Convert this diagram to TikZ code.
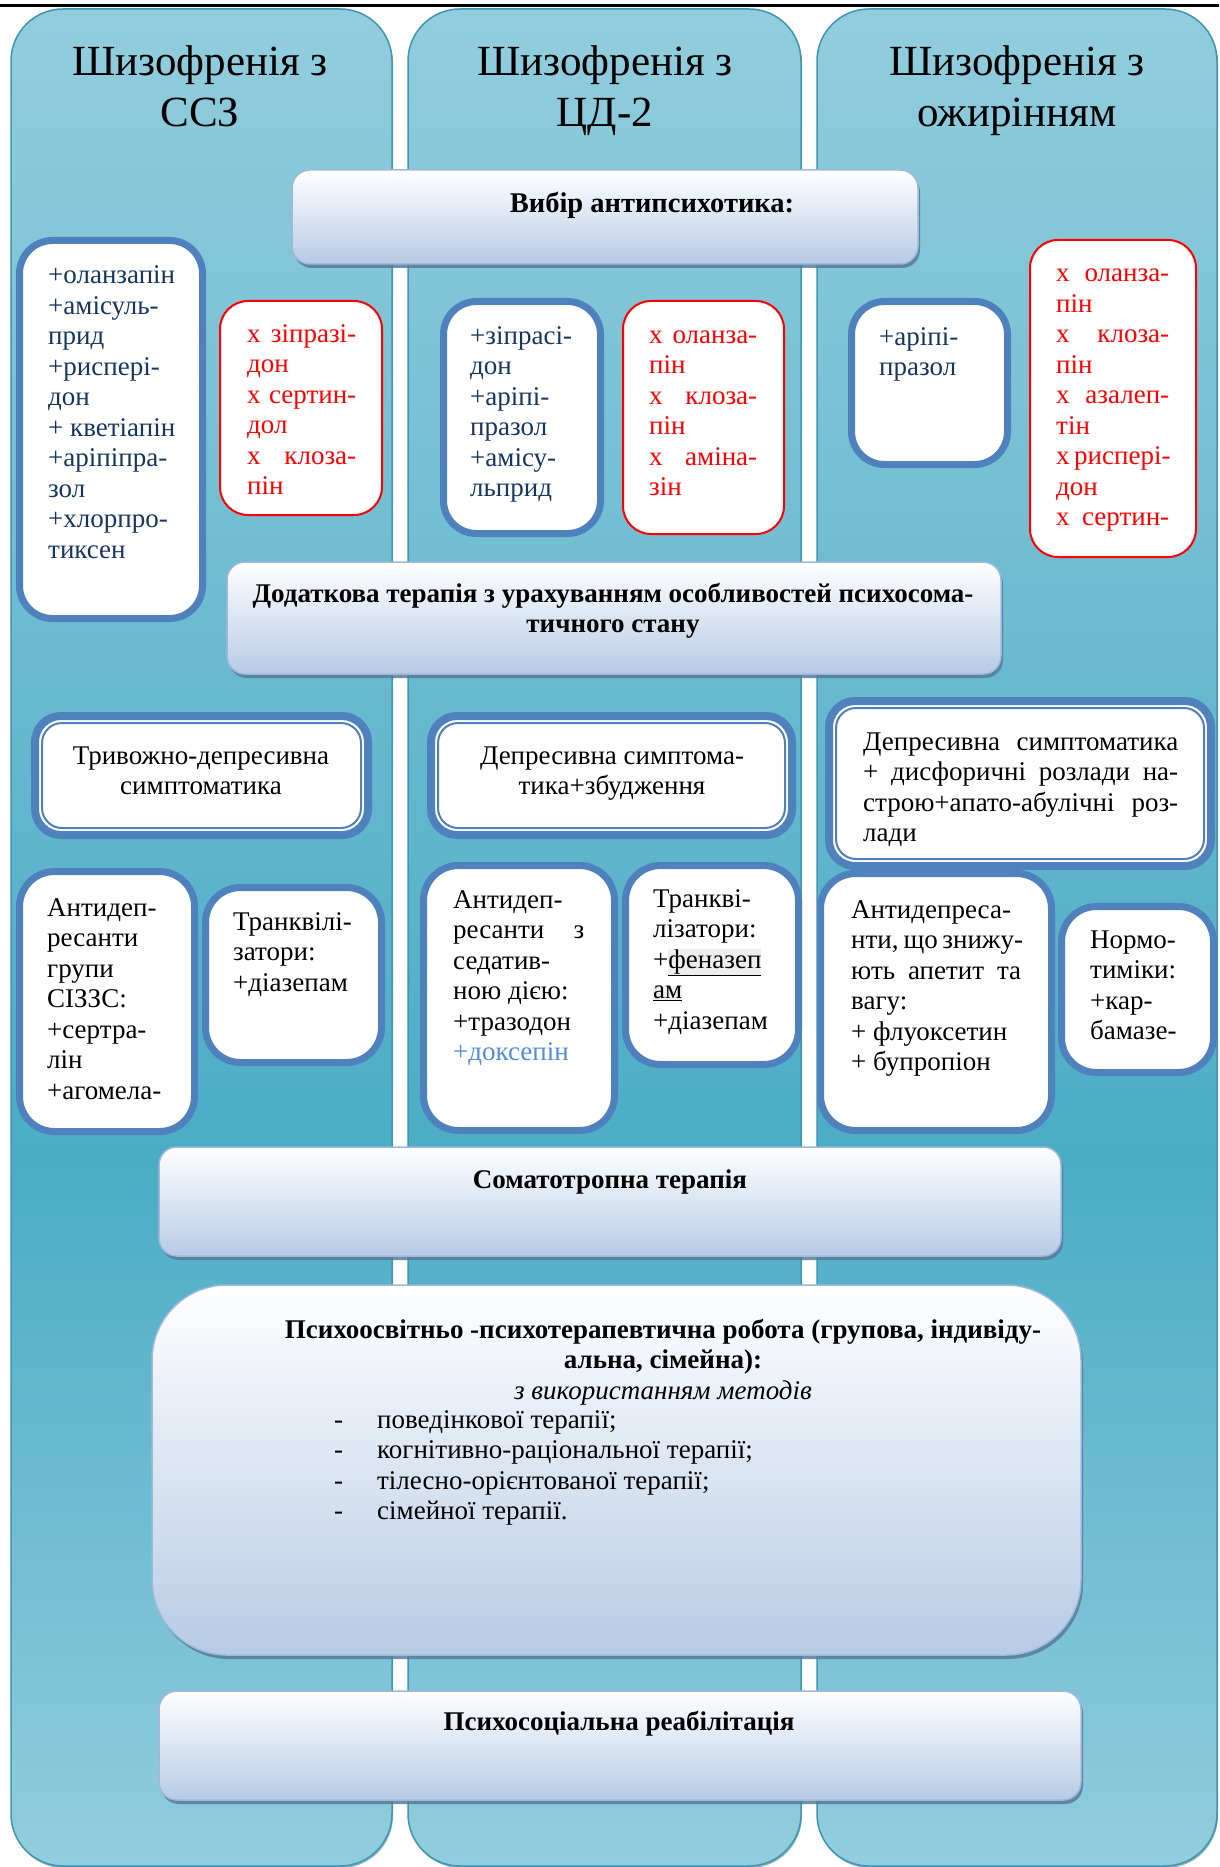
\documentclass[tikz,border=0pt]{standalone}
\usepackage{fontspec}
\setmainfont{Liberation Serif}
\usetikzlibrary{fit,shadows}
\definecolor{ctop}{RGB}{146,205,221}
\definecolor{cdark}{RGB}{75,172,198}
\definecolor{colborder}{RGB}{62,150,178}
\definecolor{gradbot}{RGB}{183,203,229}
\definecolor{gradborder}{RGB}{160,185,218}
\definecolor{gshadow}{RGB}{85,125,155}
\definecolor{boxblue}{RGB}{79,129,189}
\definecolor{navy}{RGB}{23,54,93}
\definecolor{lblue}{RGB}{84,141,212}
\definecolor{hl}{RGB}{238,238,238}
\pgfdeclareverticalshading{colshade}{100bp}{color(0bp)=(ctop); color(25bp)=(ctop); color(44bp)=(cdark); color(75bp)=(ctop); color(100bp)=(ctop)}
\hyphenpenalty=10000
\exhyphenpenalty=10000
\newcommand\mysz{\fontsize{27}{30.5}\selectfont}
\newcommand\bigsz{\fontsize{28.5}{32}\selectfont}
\newcommand\hdrsz{\fontsize{43}{51}\selectfont}
\newcommand\jline[1]{\makebox[\linewidth][s]{#1}}
\newcommand\hlu[1]{{\setlength\fboxsep{0pt}\colorbox{hl}{\underline{#1}}}}
\tikzset{
  colbox/.style={rectangle, rounded corners=52, shading=colshade, draw=colborder, line width=1.5, inner sep=0,
    drop shadow={shadow xshift=1pt, shadow yshift=-2pt, fill=colborder!70!black, opacity=0.5}},
  gradbox/.style={rectangle, rounded corners=18, top color=white, bottom color=gradbot, draw=gradborder, line width=1.5, inner sep=0,
    drop shadow={shadow xshift=2pt, shadow yshift=-4pt, fill=gshadow, opacity=0.85}},
  bluebox/.style={rectangle, rounded corners=33, draw=boxblue, line width=7, fill=white, inner sep=0},
  redbox/.style={rectangle, rounded corners=28, draw=red, line width=2, fill=white, inner sep=0},
  dblout/.style={rectangle, rounded corners=26, draw=boxblue, line width=8, fill=white, inner sep=0},
  dblin/.style={rectangle, rounded corners=20, draw=boxblue, line width=2, inner sep=0},
  txt/.style={anchor=base west, inner sep=0, font=\mysz},
  txtc/.style={anchor=base, inner sep=0, font=\mysz},
  hdr/.style={anchor=base, inner sep=0, font=\hdrsz},
}
\begin{document}
\begin{tikzpicture}[x=1pt,y=-1pt]
\fill[white] (0,0) rectangle (1219,1867);
\useasboundingbox (0,0) rectangle (1219,1867);
% top rule
\coordinate (ruleL) at (0,5.7);
\coordinate (ruleR) at (1219,5.7);
\draw[line width=2.5] (ruleL) -- (ruleR);
% columns
\node[colbox, fit={(11,9) (392,1866)}] (col1) {};
\node[colbox, fit={(408,9) (801,1866)}] (col2) {};
\node[colbox, fit={(817,9) (1217,1866)}] (col3) {};
% headers
\node[hdr] (h1) at (200,76) {\parbox[t]{370pt}{\centering Шизофренія з\\ССЗ}};
\node[hdr] (h2) at (605,76) {\parbox[t]{370pt}{\centering Шизофренія з\\ЦД-2}};
\node[hdr] (h3) at (1017,76) {\parbox[t]{390pt}{\centering Шизофренія з\\ожирінням}};
% choice of antipsychotic
\node[gradbox, fit={(292,170) (918,264)}] (vib) {};
\node[txtc, font=\bigsz] (vibt) at (652,213) {\bfseries Вибір антипсихотика:};
% antipsychotic boxes
\node[bluebox, fit={(19.5,240.5) (202.5,618.5)}] (b1) {};
\node[redbox, fit={(220,301) (382,515)}] (r1) {};
\node[bluebox, fit={(443.5,301.5) (600.5,533.5)}] (b2) {};
\node[redbox, fit={(623,301) (784,534)}] (r2) {};
\node[bluebox, fit={(851.5,301.5) (1007.5,464.5)}] (b3) {};
\node[redbox, fit={(1030,240) (1196,557)}] (r3) {};
\node[txt, text=navy] (b1t) at (48,284) {\parbox[t]{150pt}{\raggedright +оланзапін\\+амісуль-\\прид\\+рисперi-\\дон\\+ кветіапін\\+аріпіпра-\\зол\\+хлорпро-\\тиксен}};
\node[txt, text=red] (r1t) at (247,342) {\parbox[t]{109pt}{\raggedright \jline{х зіпразі-}\\дон\\\jline{х сертин-}\\дол\\\jline{х клоза-}\\пін}};
\node[txt, text=navy] (b2t) at (470,344) {\parbox[t]{120pt}{\raggedright +зіпрасі-\\дон\\+аріпі-\\празол\\+амісу-\\льприд}};
\node[txt, text=red] (r2t) at (649,343) {\parbox[t]{108pt}{\raggedright \jline{х оланза-}\\пін\\\jline{х клоза-}\\пін\\\jline{х аміна-}\\зін}};
\node[txt, text=navy] (b3t) at (879,345) {\parbox[t]{120pt}{\raggedright +аріпі-\\празол}};
\node[txt, text=red] (r3t) at (1056,282) {\parbox[t]{113pt}{\raggedright \jline{х оланза-}\\пін\\\jline{х клоза-}\\пін\\\jline{х азалеп-}\\тін\\\jline{х рисперi-}\\дон\\\jline{х сертин-}}};
% additional therapy
\node[gradbox, fit={(227,562) (1001,674)}] (dod) {};
\node[txtc] (dodt) at (613,602) {\parbox[t]{770pt}{\centering\bfseries Додаткова терапія з урахуванням особливостей психосома-\\тичного стану}};
% symptom boxes
\node[dblout, fit={(35,716) (368,835)}] (d1) {};
\node[dblin, fit={(42,723) (361,828)}] (d1i) {};
\node[dblout, fit={(431,716) (792,835)}] (d2) {};
\node[dblin, fit={(438,723) (785,828)}] (d2i) {};
\node[dblout, fit={(829,701) (1211,866)}] (d3) {};
\node[dblin, fit={(836,708) (1204,859)}] (d3i) {};
\node[txtc] (d1t) at (201,764) {\parbox[t]{320pt}{\centering Тривожно-депресивна\\симптоматика}};
\node[txtc] (d2t) at (612,764) {\parbox[t]{350pt}{\centering Депресивна симптома-\\тика+збудження}};
\node[txt] (d3t) at (863,750) {\parbox[t]{315pt}{\raggedright \jline{Депресивна симптоматика}\\\jline{+ дисфоричні розлади на-}\\\jline{строю+апато-абулічні роз-}\\лади}};
% drug boxes
\node[bluebox, rounded corners=35, fit={(19.5,871.5) (194.5,1131.5)}] (a1) {};
\node[bluebox, rounded corners=35, fit={(205.5,887.5) (381.5,1062.5)}] (t1) {};
\node[bluebox, rounded corners=35, fit={(423.5,865.5) (614.5,1130.5)}] (a2) {};
\node[bluebox, rounded corners=35, fit={(625.5,865.5) (798.5,1064.5)}] (t2) {};
\node[bluebox, rounded corners=35, fit={(820.5,873.5) (1051.5,1130.5)}] (a3) {};
\node[bluebox, rounded corners=35, fit={(1061.5,906.5) (1213.5,1072.5)}] (n3) {};
\node[txt] (a1t) at (47,916) {\parbox[t]{140pt}{\raggedright Антидеп-\\ресанти\\групи\\СІЗЗС:\\+сертра-\\лін\\+агомела-}};
\node[txt] (t1t) at (233,930) {\parbox[t]{140pt}{\raggedright Транквілі-\\затори:\\+діазепам}};
\node[txt] (a2t) at (453,908) {\parbox[t]{131pt}{\raggedright Антидеп-\\\jline{ресанти з}\\седатив-\\ною дією:\\+тразодон\\\textcolor{lblue}{+доксепін}}};
\node[txt] (t2t) at (653,907) {\parbox[t]{140pt}{\raggedright Транквi-\\лізатори:\\+\hlu{феназеп}\\\hlu{ам}\\+діазепам}};
\node[txt] (a3t) at (851,918) {\parbox[t]{170pt}{\raggedright Антидепреса-\\\jline{нти, що знижу-}\\\jline{ють апетит та}\\вагу:\\+ флуоксетин\\+ бупропіон}};
\node[txt] (n3t) at (1090,948) {\parbox[t]{120pt}{\raggedright Нормо-\\тиміки:\\+кар-\\бамазе-}};
% somatotropic therapy
\node[gradbox, fit={(159,1147) (1061,1256)}] (som) {};
\node[txtc] (somt) at (610,1188) {\bfseries Соматотропна терапія};
% psychoeducation
\node[gradbox, rounded corners=75, fit={(152,1285) (1081,1655)}] (psy) {};
\node[txtc] (psyt) at (663,1338) {\parbox[t]{800pt}{\centering\bfseries Психоосвітньо -психотерапевтична робота (групова, індивіду-\\альна, сімейна):\\\mdseries\itshape з використанням методів}};
\node[txt] (psyl) at (334,1428) {\parbox[t]{600pt}{\raggedright \makebox[43pt][l]{-}поведінкової терапії;\\\makebox[43pt][l]{-}когнітивно-раціональної терапії;\\\makebox[43pt][l]{-}тілесно-орієнтованої терапії;\\\makebox[43pt][l]{-}сімейної терапії.}};
% rehabilitation
\node[gradbox, fit={(159,1691) (1081,1800)}] (reh) {};
\node[txtc] (reht) at (619,1730) {\bfseries Психосоціальна реабілітація};
\end{tikzpicture}
\end{document}
